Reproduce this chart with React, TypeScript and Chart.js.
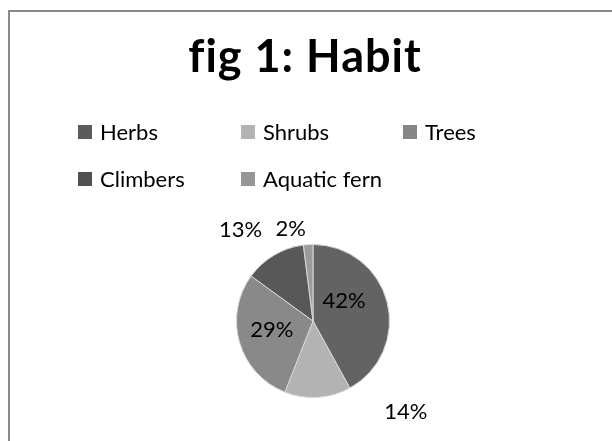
import React, { useEffect, useRef } from "react";
import { Chart, registerables } from "chart.js";

Chart.register(...registerables);

const TITLE = "fig 1: Habit";
const categories = ["Herbs", "Shrubs", "Trees", "Climbers", "Aquatic fern"];
const percentages = [42, 14, 29, 13, 2];
const sliceColors = ["#636363", "#b3b3b3", "#898989", "#585858", "#9c9c9c"];
const legendColors = ["#5c5c5c", "#b3b3b3", "#868686", "#505050", "#969696"];
// label placement per slice: [radius factor, angle offset in degrees]
const labelPlacement: [number, number][] = [
  [0.48, -18],
  [1.7, -42],
  [0.55, 4],
  [1.52, -8],
  [1.24, -10],
];

const FONT = "Lato, 'Noto Sans', sans-serif";

const decorPlugin = {
  id: "decor",
  beforeDraw(chart: any) {
    const ctx = chart.ctx;
    ctx.save();
    ctx.fillStyle = "#ffffff";
    ctx.fillRect(0, 0, chart.width, chart.height);
    ctx.strokeStyle = "#8a8a8a";
    ctx.lineWidth = 2;
    ctx.strokeRect(9, 11, chart.width + 20, chart.height + 20);
    // title
    ctx.fillStyle = "#000";
    ctx.font = `bold 45px ${FONT}`;
    (ctx as any).letterSpacing = "1px";
    ctx.textAlign = "center";
    ctx.textBaseline = "alphabetic";
    ctx.fillText(TITLE, 305, 72);
    (ctx as any).letterSpacing = "0px";
    // legend
    const colX = [78, 241, 403];
    const rowY = [125, 172];
    ctx.font = `22px ${FONT}`;
    ctx.textAlign = "left";
    ctx.textBaseline = "middle";
    const labels = chart.data.labels as string[];
    labels.forEach((lab, i) => {
      const x = colX[i % 3];
      const y = rowY[Math.floor(i / 3)];
      ctx.fillStyle = legendColors[i];
      ctx.fillRect(x, y, 14, 14);
      ctx.fillStyle = "#000";
      ctx.fillText(lab, x + 22, y + 8);
    });
    ctx.restore();
  },
  afterDraw(chart: any) {
    const ctx = chart.ctx;
    const meta = chart.getDatasetMeta(0);
    const data = chart.data.datasets[0].data as number[];
    ctx.save();
    ctx.font = `22px ${FONT}`;
    ctx.fillStyle = "#000";
    ctx.textAlign = "center";
    ctx.textBaseline = "middle";
    meta.data.forEach((arc: any, i: number) => {
      const p = arc.getProps(["x", "y", "startAngle", "endAngle", "outerRadius"], true);
      const [f, off] = labelPlacement[i];
      const mid = (p.startAngle + p.endAngle) / 2 + (off * Math.PI) / 180;
      const r = p.outerRadius * f;
      ctx.fillText(`${data[i]}%`, p.x + Math.cos(mid) * r, p.y + Math.sin(mid) * r);
    });
    ctx.restore();
  },
};

export default function App() {
  const ref = useRef<HTMLCanvasElement>(null);
  useEffect(() => {
    if (!ref.current) return;
    const chart = new Chart(ref.current, {
      type: "pie",
      data: {
        labels: categories,
        datasets: [
          {
            data: percentages,
            backgroundColor: sliceColors,
            borderColor: "#d8d8d8",
            borderWidth: 1,
          },
        ],
      },
      options: {
        responsive: false,
        animation: false,
        layout: { padding: { left: 236, right: 222, top: 244, bottom: 43 } },
        plugins: {
          legend: { display: false },
          title: { display: false },
          tooltip: { enabled: false },
        },
      },
      plugins: [decorPlugin],
    });
    return () => chart.destroy();
  }, []);
  return (
    <div style={{ position: "absolute", left: 0, top: 0, width: 612, height: 441 }}>
      <canvas ref={ref} width={612} height={441} />
    </div>
  );
}
